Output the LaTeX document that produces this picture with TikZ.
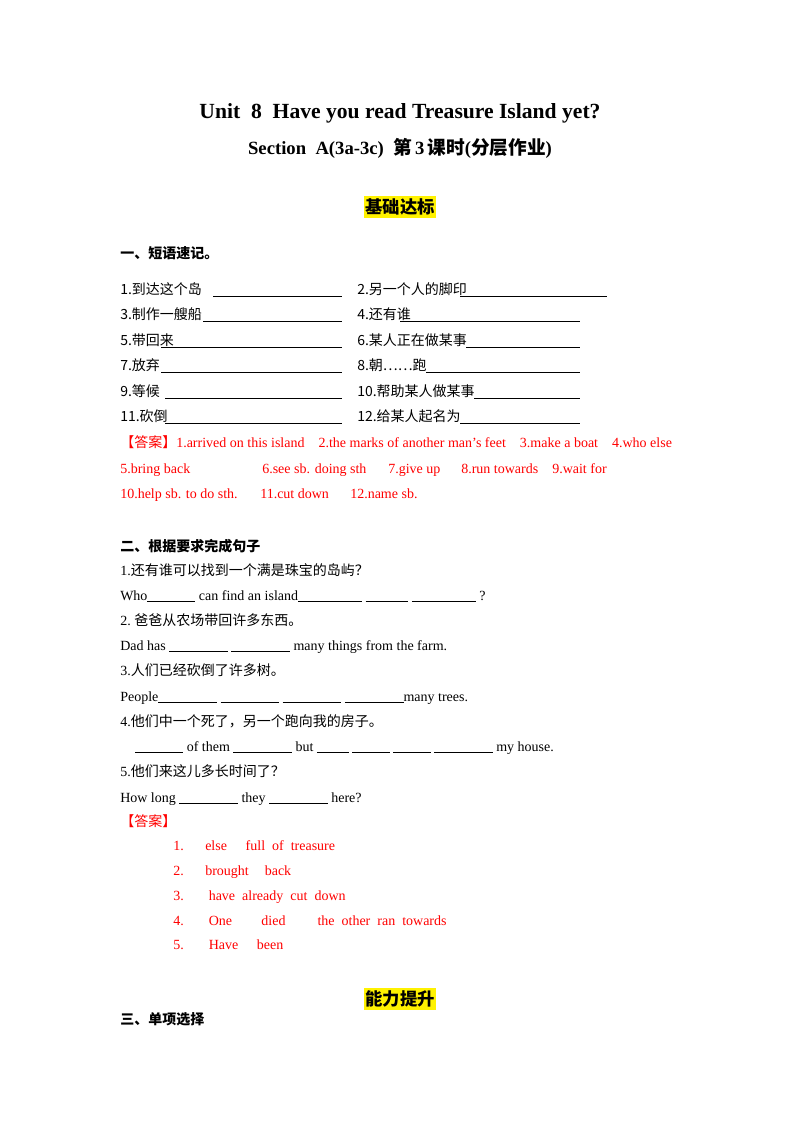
\documentclass[tikz,border=0pt]{standalone}
\usepackage{fontspec}
\setmainfont{Liberation Serif}
\newfontfamily\zhf{Noto Sans CJK SC}
\newcommand\zh[1]{{\zhf #1}}
\newcommand\bl[1]{\rule[-1.5pt]{#1pt}{0.4pt}}
\begin{document}
\begin{tikzpicture}[x=0.75pt,y=-0.75pt,
  t/.style={anchor=base west,inner sep=0pt,font=\fontsize{10.5}{12}\selectfont},
  r/.style={t,text=red},
  h/.style={anchor=base,inner sep=0pt,font=\bfseries\fontsize{16.2}{18}\selectfont},
  hl/.style={fill=yellow,inner xsep=1pt,inner ysep=2pt,font=\bfseries\fontsize{13}{15}\selectfont}]
\useasboundingbox (0,0) rectangle (800,1132);
\fill[white] (0,0) rectangle (800,1132);
\node[h] (title) at (400,118) {Unit\ \ 8\ \ Have you read Treasure Island yet?};
\node[anchor=base,inner sep=0pt,font=\bfseries\fontsize{14}{15}\selectfont] (sub) at (400,154) {Section\ \ A(3a-3c)\ \ \zh{第}\,3\,\zh{课时}(\zh{分层作业})};
\node[hl] (j1) at (400,207) {\zh{基础达标}};
\node[t,font=\bfseries\fontsize{10.5}{12}\selectfont] (s1) at (120,258) {\zh{一、短语速记。}};
% rows
\foreach \y/\a/\ax/\b/\bx/\bxx in {
 294/1.到达这个岛/213/2.另一个人的脚印/460/607,
 319/3.制作一艘船/203/4.还有谁/400/580,
 345/5.带回来/161/6.某人正在做某事/466/580,
 370/7.放弃/161/8.朝……跑/426/580,
 396/9.等候/165/10.帮助某人做某事/474/580,
 421/11.砍倒/165/12.给某人起名为/460/580}{
 \node[t] at (120,\y) {\zh{\a}};
 \draw[line width=0.5pt] (\ax,\y+2) -- (342,\y+2);
 \node[t] at (357,\y) {\zh{\b}};
 \draw[line width=0.5pt] (\bx,\y+2) -- (\bxx,\y+2);
}
\node[r] (a1) at (120,447) {\zh{【答案】}1.arrived on this island\ \ \ \ 2.the marks of another man's feet\ \ \ \ 3.make a boat\ \ \ \ 4.who else};
\node[r] at (120,473) {5.bring back};
\node[r] at (262,473) {6.see sb. doing sth};
\node[r] at (388,473) {7.give up};
\node[r] at (461,473) {8.run towards};
\node[r] at (552,473) {9.wait for};
\node[r] at (120,498) {10.help sb. to do sth.};
\node[r] at (260,498) {11.cut down};
\node[r] at (350,498) {12.name sb.};
\node[t,font=\bfseries\fontsize{10.5}{12}\selectfont] (s2) at (120,551) {\zh{二、根据要求完成句子}};
\node[t] at (120,575) {1.\zh{还有谁可以找到一个满是珠宝的岛屿？}};
\node[t] at (120,600) {Who\bl{36} can find an island\bl{48} \bl{32} \bl{48} ?};
\node[t] at (120,625) {2.\ \zh{爸爸从农场带回许多东西。}};
\node[t] at (120,650) {Dad has \bl{44} \bl{44} many things from the farm.};
\node[t] at (120,675) {3.\zh{人们已经砍倒了许多树。}};
\node[t] at (120,701) {People\bl{44} \bl{44} \bl{44} \bl{44}many trees.};
\node[t] at (120,726) {4.\zh{他们中一个死了，另一个跑向我的房子。}};
\node[t] at (135,751) {\bl{36} of them \bl{44} but \bl{24} \bl{28} \bl{28} \bl{44} my house.};
\node[t] at (120,776) {5.\zh{他们来这儿多长时间了？}};
\node[t] at (120,802) {How long \bl{44} they \bl{44} here?};
\node[r] at (120,826) {\zh{【答案】}};
\foreach \y/\n/\s in {850/1./else\hspace{14pt}full\ \ of\ \ treasure,
 875/2./brought\hspace{12pt}back,
 900/3./\ have\ \ already\ \ cut\ \ down,
 925/4./\ One\hspace{22pt}died\hspace{24pt}the\ \ other\ \ ran\ \ towards,
 949/5./\ Have\hspace{14pt}been}{
 \node[r] at (173,\y) {\n};
 \node[r] at (205,\y) {\s};
}
\node[hl] (j2) at (400,999) {\zh{能力提升}};
\node[t,font=\bfseries\fontsize{10.5}{12}\selectfont] (s3) at (120,1024) {\zh{三、单项选择}};
\end{tikzpicture}
\end{document}
